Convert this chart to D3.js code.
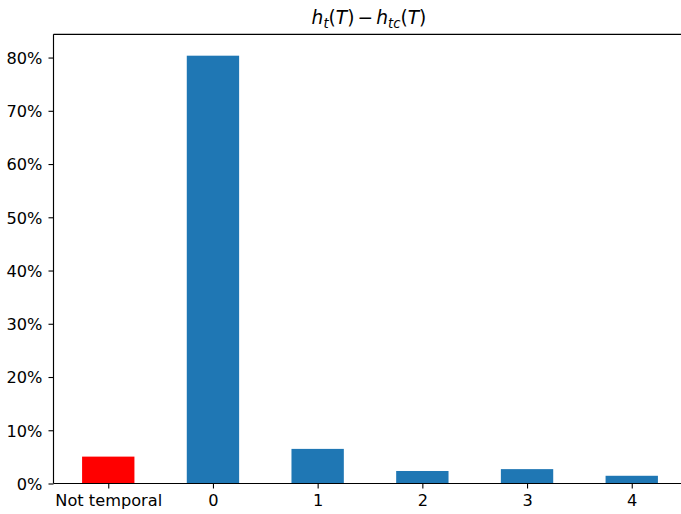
<!DOCTYPE html>
<html lang="en">
<head>
<meta charset="utf-8">
<style type="text/css">
body { margin: 0; background: #fff; }
</style>
</head>
<body>
<svg width="681" height="514"></svg>

<script src="https://d3js.org/d3.v7.min.js"></script>
<script type="text/javascript">
    var categories = ["Not temporal", "0", "1", "2", "3", "4"];
    var values = [5.05, 80.35, 6.5, 2.35, 2.7, 1.45];
    var barColors = ["#ff0000", "#1f77b4", "#1f77b4", "#1f77b4", "#1f77b4", "#1f77b4"];
    var yTicks = [0, 10, 20, 30, 40, 50, 60, 70, 80];

    var svg = d3.select("svg"),
        mLeft = 53.5, mRight = 686.5, mTop = 34.3, mBottom = 483.5;
    var font = "DejaVu Sans, sans-serif";

    // x in bar index units, matplotlib-like padding
    var x = d3.scaleLinear().domain([-0.523, categories.length - 1 + 0.523]).range([mLeft, mRight]);
    var y = d3.scaleLinear().domain([0, d3.max(values) * 1.05]).range([mBottom, mTop]);
    var barW = x(0.5) - x(0);

    svg.selectAll(".bar")
        .data(values)
        .enter()
        .append("rect")
        .attr("class", "bar")
        .attr("x", function (d, i) { return x(i) - barW / 2; })
        .attr("width", barW)
        .attr("y", function (d) { return y(d); })
        .attr("height", function (d) { return y(0) - y(d); })
        .attr("fill", function (d, i) { return barColors[i]; });

    var yAxis = d3.axisLeft(y)
        .tickValues(yTicks)
        .tickSize(5)
        .tickPadding(6)
        .tickFormat(function (d) { return d + "%"; });

    var xAxis = d3.axisBottom(x)
        .tickValues(d3.range(categories.length))
        .tickSize(5)
        .tickPadding(6)
        .tickFormat(function (d) { return categories[d]; });

    var gy = svg.append("g").attr("transform", "translate(" + mLeft + ",0)").call(yAxis);
    var gx = svg.append("g").attr("transform", "translate(0," + mBottom + ")").call(xAxis);
    [gx, gy].forEach(function (g) {
        g.attr("font-family", font).attr("font-size", 16.2);
        g.select(".domain").remove();
        g.selectAll(".tick line").attr("stroke", "#000").attr("stroke-width", 1.1);
        g.selectAll(".tick text").attr("fill", "#000");
    });
    gy.selectAll(".tick text").attr("dy", "0.36em");

    // spines
    var spines = svg.append("g").attr("stroke", "#000").attr("stroke-width", 1.15).attr("fill", "none");
    spines.append("path").attr("d", "M" + mLeft + "," + mTop + "V" + mBottom);
    spines.append("path").attr("d", "M" + mLeft + "," + mBottom + "H" + mRight);
    spines.append("path").attr("d", "M" + mLeft + "," + mTop + "H" + mRight);
    spines.append("path").attr("d", "M" + mRight + "," + mTop + "V" + mBottom);

    // title  h_t(T) - h_tc(T)
    var title = svg.append("text")
        .attr("x", (mLeft + mRight) / 2 - 1)
        .attr("y", 24)
        .attr("text-anchor", "middle")
        .attr("font-family", font)
        .attr("font-size", 18.6)
        .attr("fill", "#000");
    var parts = [
        ["h", "italic", 0], ["t", "italic", 1], ["(", "normal", -1], ["T", "italic", 0], [")", "normal", 0],
        ["\u2006\u2212\u2006", "normal", 0],
        ["h", "italic", 0], ["tc", "italic", 1], ["(", "normal", -1], ["T", "italic", 0], [")", "normal", 0]
    ];
    parts.forEach(function (p) {
        var t = title.append("tspan").text(p[0]).attr("font-style", p[1]);
        if (p[2] === 1) t.attr("dy", 3.5).attr("font-size", 13.2);
        if (p[2] === -1) t.attr("dy", -3.5);
    });
</script>
</body>
</html>
